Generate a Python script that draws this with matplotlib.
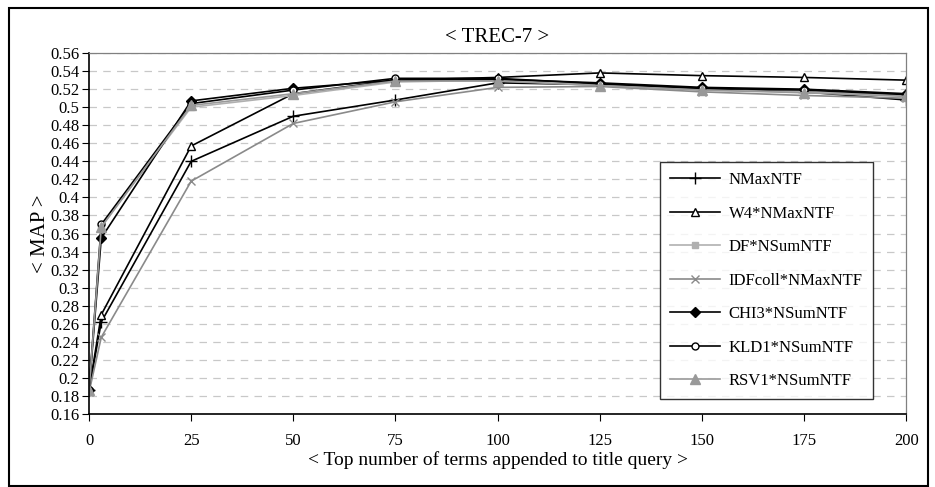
import matplotlib.pyplot as plt
from matplotlib.patches import Rectangle

# data
x_terms = [0, 3, 25, 50, 75, 100, 125, 150, 175, 200]

nmax_ntf     = [0.186, 0.262, 0.440, 0.490, 0.508, 0.527, 0.525, 0.520, 0.517, 0.508]
w4_nmax_ntf  = [0.186, 0.270, 0.457, 0.515, 0.530, 0.533, 0.538, 0.535, 0.533, 0.530]
df_nsum_ntf  = [0.186, 0.368, 0.500, 0.513, 0.528, 0.530, 0.524, 0.519, 0.517, 0.513]
idf_nmax_ntf = [0.184, 0.245, 0.418, 0.482, 0.506, 0.522, 0.523, 0.517, 0.513, 0.510]
chi3_nsum    = [0.186, 0.355, 0.507, 0.521, 0.530, 0.531, 0.527, 0.522, 0.520, 0.515]
kld1_nsum    = [0.187, 0.370, 0.504, 0.519, 0.532, 0.532, 0.526, 0.521, 0.519, 0.514]
rsv1_nsum    = [0.186, 0.367, 0.502, 0.515, 0.529, 0.529, 0.524, 0.519, 0.516, 0.512]

series_names = ["NMaxNTF", "W4*NMaxNTF", "DF*NSumNTF", "IDFcoll*NMaxNTF",
                "CHI3*NSumNTF", "KLD1*NSumNTF", "RSV1*NSumNTF"]
y_ticks = [0.16, 0.18, 0.2, 0.22, 0.24, 0.26, 0.28, 0.3, 0.32, 0.34, 0.36, 0.38,
           0.4, 0.42, 0.44, 0.46, 0.48, 0.5, 0.52, 0.54, 0.56]
x_ticks = [0, 25, 50, 75, 100, 125, 150, 175, 200]

plt.rcParams["font.family"] = ["Liberation Serif", "DejaVu Serif"]

fig = plt.figure(figsize=(9.35, 4.87), dpi=100)
ax = fig.add_axes([0.0952, 0.150, 0.874, 0.741])

# =========================
# Series
# =========================
styles = [
    dict(color="black", marker="+", markersize=9, mfc="black", mec="black"),
    dict(color="black", marker="^", markersize=6, mfc="white", mec="black"),
    dict(color="#b0b0b0", marker="s", markersize=5, mfc="#b0b0b0", mec="#b0b0b0"),
    dict(color="#8a8a8a", marker="x", markersize=6, mfc="#8a8a8a", mec="#8a8a8a"),
    dict(color="black", marker="D", markersize=5, mfc="black", mec="black"),
    dict(color="black", marker="o", markersize=5, mfc="white", mec="black"),
    dict(color="#999999", marker="^", markersize=7, mfc="#999999", mec="#999999"),
]
all_series = [nmax_ntf, w4_nmax_ntf, df_nsum_ntf, idf_nmax_ntf,
              chi3_nsum, kld1_nsum, rsv1_nsum]

for name, ys, st in zip(series_names, all_series, styles):
    ax.plot(x_terms, ys, label=name, linewidth=1.2, **st)

# =========================
# Axes
# =========================
ax.set_xlim(0, 200)
ax.set_ylim(0.16, 0.56)
ax.set_xticks(x_ticks)
ax.set_yticks(y_ticks)
ax.set_yticklabels([f"{t:g}" for t in y_ticks])
ax.tick_params(axis="both", direction="out", length=5, labelsize=12, pad=2)
ax.tick_params(axis="x", pad=9)
ax.yaxis.grid(True, linestyle=(0, (6, 5)), color="#c8c8c8", linewidth=0.9)
ax.set_axisbelow(True)

for side in ["top", "right"]:
    ax.spines[side].set_color("#808080")
    ax.spines[side].set_linewidth(0.9)
for side in ["left", "bottom"]:
    ax.spines[side].set_linewidth(1.2)

ax.set_xlabel("< Top number of terms appended to title query >", fontsize=14, labelpad=1)
ax.set_ylabel("< MAP >", fontsize=15, labelpad=0)
ax.set_title("< TREC-7 >", fontsize=15, pad=8)

leg = ax.legend(loc="upper left", bbox_to_anchor=(0.699, 0.698), fontsize=12,
                frameon=True, fancybox=False, edgecolor="black",
                borderpad=0.6, labelspacing=1.05, handlelength=3.0,
                handletextpad=0.5, borderaxespad=0)
leg.get_frame().set_linewidth(1.0)

# =========================
# Outer border
# =========================
fig.patches.append(Rectangle((9 / 935, 1 / 487), 919 / 935, 478 / 487,
                             transform=fig.transFigure, fill=False,
                             edgecolor="black", linewidth=1.5))

fig.savefig("out.png", dpi=100)
